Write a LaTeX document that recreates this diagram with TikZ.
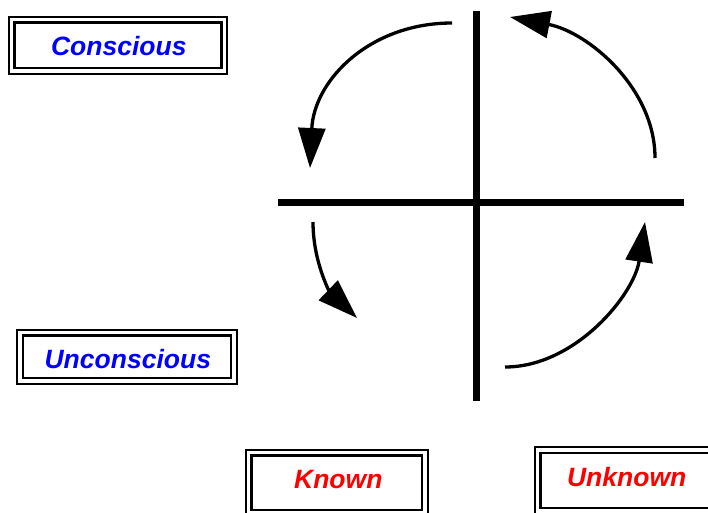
\documentclass[tikz,border=0pt]{standalone}
\usepackage{fontspec}
\setmainfont{Liberation Sans}
\usetikzlibrary{arrows.meta}
\definecolor{lblblue}{RGB}{0,0,255}
\definecolor{lblred}{RGB}{255,0,0}
\begin{document}
\begin{tikzpicture}[x=1pt,y=-1pt,
  inbox/.style={draw=black,line width=2.6pt,inner sep=0pt,outer sep=0pt,fill=none},
  outline/.style={draw=black,line width=2pt},
  lbl/.style={font=\fontsize{26.5}{26.5}\selectfont\bfseries\itshape,inner sep=0pt,anchor=base},
  axis/.style={line width=7pt,line cap=butt},
  cyc/.style={line width=3.3pt,-{Triangle[length=40pt,width=27pt]}}]
\useasboundingbox (0,0) rectangle (708,512);
\clip (0,0) rectangle (708,512);
% axes
\coordinate (vtop) at (476.7,11);
\coordinate (vbot) at (476.7,401);
\coordinate (hl) at (278.3,202.7);
\coordinate (hr) at (684.3,202.7);
\draw[axis] (vtop) -- (vbot);
\draw[axis] (hl) -- (hr);
% cycle arrows
\coordinate (a1) at (452,23);
\coordinate (b1) at (310,168);
\draw[cyc] (a1) .. controls (370,23) and (314,80) .. (b1);
\coordinate (a2) at (655,158);
\coordinate (b2) at (510,17);
\draw[cyc] (a2) .. controls (655,88) and (588,32) .. (b2);
\coordinate (a3) at (313,222);
\coordinate (b3) at (357,318);
\draw[cyc] (a3) .. controls (313,262) and (330,292) .. (b3);
\coordinate (a4) at (505,367);
\coordinate (b4) at (645,222);
\draw[cyc] (a4) .. controls (575,367) and (634,295) .. (b4);
% boxes
\node[inbox,minimum width=207pt,minimum height=45.5pt] (cbox) at (118.25,45.25) {};
\node[inbox,minimum width=208pt,minimum height=42.5pt] (ubox) at (127,356.75) {};
\node[inbox,minimum width=170.7pt,minimum height=54.5pt] (kbox) at (336.7,482.7) {};
\node[inbox,minimum width=172.5pt,minimum height=55pt] (nbox) at (626.75,480.5) {};
\foreach \b in {cbox,ubox,kbox,nbox}{
  \draw[outline] ([xshift=-5.6pt,yshift=5.6pt]\b.north west) rectangle ([xshift=5.6pt,yshift=-5.6pt]\b.south east);
}
% labels
\node[lbl,text=lblblue] (ct) at (118.8,55) {Conscious};
\node[lbl,text=lblblue] (ut) at (127.8,368.3) {Unconscious};
\node[lbl,text=lblred] (kt) at (338.3,488.3) {Known};
\node[lbl,text=lblred] (nt) at (626.7,486.7) {Unknown};
\end{tikzpicture}
\end{document}
